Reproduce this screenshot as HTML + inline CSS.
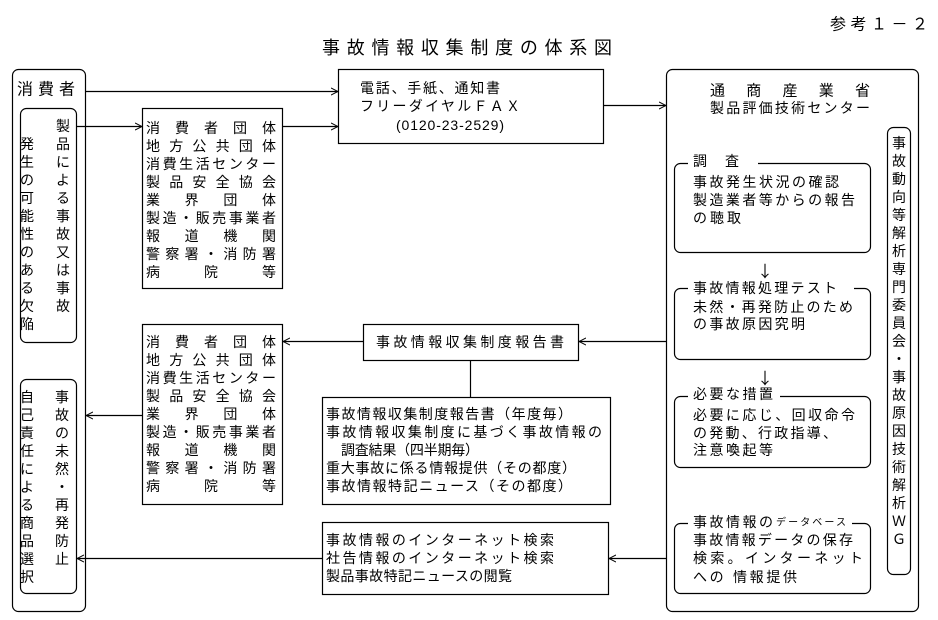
<!DOCTYPE html>
<html><head><meta charset="utf-8"><style>
html,body{margin:0;padding:0;background:#fff;}
svg{display:block;}
text{font-family:"Liberation Sans","Noto Sans CJK JP",sans-serif;font-size:14px;fill:#000;dominant-baseline:central;}
text.ar{font-family:"Noto Sans CJK JP",sans-serif;font-size:16px;}
</style></head><body>
<svg width="938" height="620" viewBox="0 0 938 620" xmlns="http://www.w3.org/2000/svg">
<defs><marker id="a" markerWidth="8" markerHeight="8" refX="7" refY="4" orient="auto" markerUnits="userSpaceOnUse"><path d="M0,0.5 L7,4 L0,7.5" fill="none" stroke="#000" stroke-width="1"/></marker></defs>
<g fill="none" stroke="#000" stroke-width="1.2">
<rect x="12.5" y="69.5" width="73" height="542" rx="6"/>
<rect x="20.5" y="108.5" width="56" height="234" rx="6"/>
<rect x="20.5" y="379.5" width="56" height="214" rx="6"/>
<rect x="142.5" y="108.5" width="140" height="180"/>
<rect x="142.5" y="324.5" width="140" height="180"/>
<rect x="338.5" y="69.5" width="265" height="74"/>
<rect x="666.5" y="69.5" width="252" height="542" rx="6"/>
<rect x="887.5" y="127.5" width="23" height="447" rx="6"/>
<rect x="674.5" y="163.5" width="196" height="89" rx="6"/>
<rect x="674.5" y="288.5" width="196" height="71" rx="6"/>
<rect x="674.5" y="396.5" width="196" height="71" rx="6"/>
<rect x="674.5" y="523.5" width="196" height="70" rx="6"/>
<rect x="363.5" y="324.5" width="215" height="36"/>
<rect x="322.5" y="397.5" width="288" height="107"/>
<rect x="322.5" y="522.5" width="286" height="72"/>
<line x1="85" y1="91.5" x2="338" y2="91.5" marker-end="url(#a)"/>
<line x1="77" y1="126.5" x2="142" y2="126.5" marker-end="url(#a)"/>
<line x1="282" y1="126.5" x2="338" y2="126.5" marker-end="url(#a)"/>
<line x1="603" y1="105.5" x2="666" y2="105.5" marker-end="url(#a)"/>
<line x1="666" y1="341.5" x2="579" y2="341.5" marker-end="url(#a)"/>
<line x1="363" y1="341.5" x2="283" y2="341.5" marker-end="url(#a)"/>
<line x1="470.5" y1="361" x2="470.5" y2="397"/>
<line x1="142" y1="415.5" x2="86" y2="415.5" marker-end="url(#a)"/>
<line x1="666" y1="558.5" x2="609" y2="558.5" marker-end="url(#a)"/>
<line x1="322" y1="558.5" x2="77" y2="558.5" marker-end="url(#a)"/>
</g>
<g fill="#fff" stroke="none">
<rect x="688" y="155" width="70" height="14"/>
<rect x="688" y="280" width="166" height="14"/>
<rect x="688" y="388" width="92" height="14"/>
<rect x="688" y="515" width="164" height="14"/>
</g>
<text x="830" y="25" textLength="98" lengthAdjust="spacing" style="font-size:16px">参考１－２</text>
<text x="322" y="48" textLength="290" lengthAdjust="spacing" style="font-size:18px">事故情報収集制度の体系図</text>
<text x="17" y="90" textLength="58" lengthAdjust="spacing" style="font-size:16px">消費者</text>
<g text-anchor="middle">
<text x="63" y="126">製</text><text x="63" y="144">品</text><text x="63" y="162">に</text><text x="63" y="180">よ</text><text x="63" y="198">る</text><text x="63" y="216">事</text><text x="63" y="234">故</text><text x="63" y="252">又</text><text x="63" y="270">は</text><text x="63" y="288">事</text><text x="63" y="306">故</text>
<text x="27" y="144">発</text><text x="27" y="162">生</text><text x="27" y="180">の</text><text x="27" y="198">可</text><text x="27" y="216">能</text><text x="27" y="234">性</text><text x="27" y="252">の</text><text x="27" y="270">あ</text><text x="27" y="288">る</text><text x="27" y="306">欠</text><text x="27" y="324">陥</text>
<text x="27" y="397">自</text><text x="27" y="415">己</text><text x="27" y="433">責</text><text x="27" y="451">任</text><text x="27" y="469">に</text><text x="27" y="487">よ</text><text x="27" y="505">る</text><text x="27" y="523">商</text><text x="27" y="541">品</text><text x="27" y="559">選</text><text x="27" y="577">択</text>
<text x="62" y="397">事</text><text x="62" y="415">故</text><text x="62" y="433">の</text><text x="62" y="451">未</text><text x="62" y="469">然</text><text x="62" y="487">・</text><text x="62" y="505">再</text><text x="62" y="523">発</text><text x="62" y="541">防</text><text x="62" y="559">止</text>
<text x="899" y="143">事</text><text x="899" y="161">故</text><text x="899" y="179">動</text><text x="899" y="197">向</text><text x="899" y="215">等</text><text x="899" y="233">解</text><text x="899" y="251">析</text><text x="899" y="269">専</text><text x="899" y="287">門</text><text x="899" y="305">委</text><text x="899" y="323">員</text><text x="899" y="341">会</text><text x="899" y="359">・</text><text x="899" y="377">事</text><text x="899" y="395">故</text><text x="899" y="413">原</text><text x="899" y="431">因</text><text x="899" y="449">技</text><text x="899" y="467">術</text><text x="899" y="485">解</text><text x="899" y="503">析</text><text x="899" y="521">Ｗ</text><text x="899" y="539">Ｇ</text>
<text class="ar" x="765" y="270">↓</text><text class="ar" x="765" y="377">↓</text>
</g>
<g>
<text x="146" y="128" textLength="130" lengthAdjust="spacing">消費者団体</text>
<text x="146" y="146" textLength="130" lengthAdjust="spacing">地方公共団体</text>
<text x="146" y="164" textLength="130" lengthAdjust="spacing">消費生活センター</text>
<text x="146" y="182" textLength="130" lengthAdjust="spacing">製品安全協会</text>
<text x="146" y="200" textLength="130" lengthAdjust="spacing">業界団体</text>
<text x="146" y="218" textLength="130" lengthAdjust="spacing">製造・販売事業者</text>
<text x="146" y="236" textLength="130" lengthAdjust="spacing">報道機関</text>
<text x="146" y="254" textLength="130" lengthAdjust="spacing">警察署・消防署</text>
<text x="146" y="272" textLength="130" lengthAdjust="spacing">病院等</text>
<text x="146" y="342" textLength="130" lengthAdjust="spacing">消費者団体</text>
<text x="146" y="360" textLength="130" lengthAdjust="spacing">地方公共団体</text>
<text x="146" y="378" textLength="130" lengthAdjust="spacing">消費生活センター</text>
<text x="146" y="396" textLength="130" lengthAdjust="spacing">製品安全協会</text>
<text x="146" y="414" textLength="130" lengthAdjust="spacing">業界団体</text>
<text x="146" y="432" textLength="130" lengthAdjust="spacing">製造・販売事業者</text>
<text x="146" y="450" textLength="130" lengthAdjust="spacing">報道機関</text>
<text x="146" y="468" textLength="130" lengthAdjust="spacing">警察署・消防署</text>
<text x="146" y="486" textLength="130" lengthAdjust="spacing">病院等</text>
<text x="360" y="88" textLength="140" lengthAdjust="spacing">電話、手紙、通知書</text>
<text x="360" y="106" textLength="160" lengthAdjust="spacing">フリーダイヤルＦＡＸ</text>
<text x="396" y="125" textLength="108" lengthAdjust="spacing">(0120-23-2529)</text>
<text x="710" y="91" textLength="160" lengthAdjust="spacing" style="font-size:15px">通商産業省</text>
<text x="710" y="108" textLength="160" lengthAdjust="spacing">製品評価技術センター</text>
<text x="693" y="161" textLength="46" lengthAdjust="spacing">調査</text>
<text x="693" y="182" textLength="146" lengthAdjust="spacing">事故発生状況の確認</text>
<text x="693" y="200" textLength="162" lengthAdjust="spacing">製造業者等からの報告</text>
<text x="693" y="218" textLength="48" lengthAdjust="spacing">の聴取</text>
<text x="693" y="288" textLength="144" lengthAdjust="spacing">事故情報処理テスト</text>
<text x="693" y="307" textLength="160" lengthAdjust="spacing">未然・再発防止のため</text>
<text x="693" y="324" textLength="112" lengthAdjust="spacing">の事故原因究明</text>
<text x="693" y="394" textLength="80" lengthAdjust="spacing">必要な措置</text>
<text x="693" y="415" textLength="162" lengthAdjust="spacing">必要に応じ、回収命令</text>
<text x="693" y="433" textLength="144" lengthAdjust="spacing">の発動、行政指導、</text>
<text x="693" y="450" textLength="80" lengthAdjust="spacing">注意喚起等</text>
<text x="693" y="522" textLength="80" lengthAdjust="spacing">事故情報の</text>
<text x="776" y="523" textLength="70" lengthAdjust="spacing" style="font-size:10px">データベース</text>
<text x="693" y="540" textLength="160" lengthAdjust="spacing">事故情報データの保存</text>
<text x="693" y="558" textLength="170" lengthAdjust="spacing">検索。インターネット</text>
<text x="693" y="577" textLength="104" lengthAdjust="spacing">への 情報提供</text>
<text x="376" y="342" textLength="188" lengthAdjust="spacing">事故情報収集制度報告書</text>
<text x="326" y="414" textLength="246" lengthAdjust="spacing">事故情報収集制度報告書（年度毎）</text>
<text x="326" y="432" textLength="276" lengthAdjust="spacing">事故情報収集制度に基づく事故情報の</text>
<text x="341" y="450" textLength="138" lengthAdjust="spacing">調査結果（四半期毎）</text>
<text x="326" y="468" textLength="250" lengthAdjust="spacing">重大事故に係る情報提供（その都度）</text>
<text x="326" y="486" textLength="246" lengthAdjust="spacing">事故情報特記ニュース（その都度）</text>
<text x="326" y="540" textLength="228" lengthAdjust="spacing">事故情報のインターネット検索</text>
<text x="326" y="558" textLength="228" lengthAdjust="spacing">社告情報のインターネット検索</text>
<text x="326" y="576" textLength="186" lengthAdjust="spacing">製品事故特記ニュースの閲覧</text>
</g>
</svg>
</body></html>
